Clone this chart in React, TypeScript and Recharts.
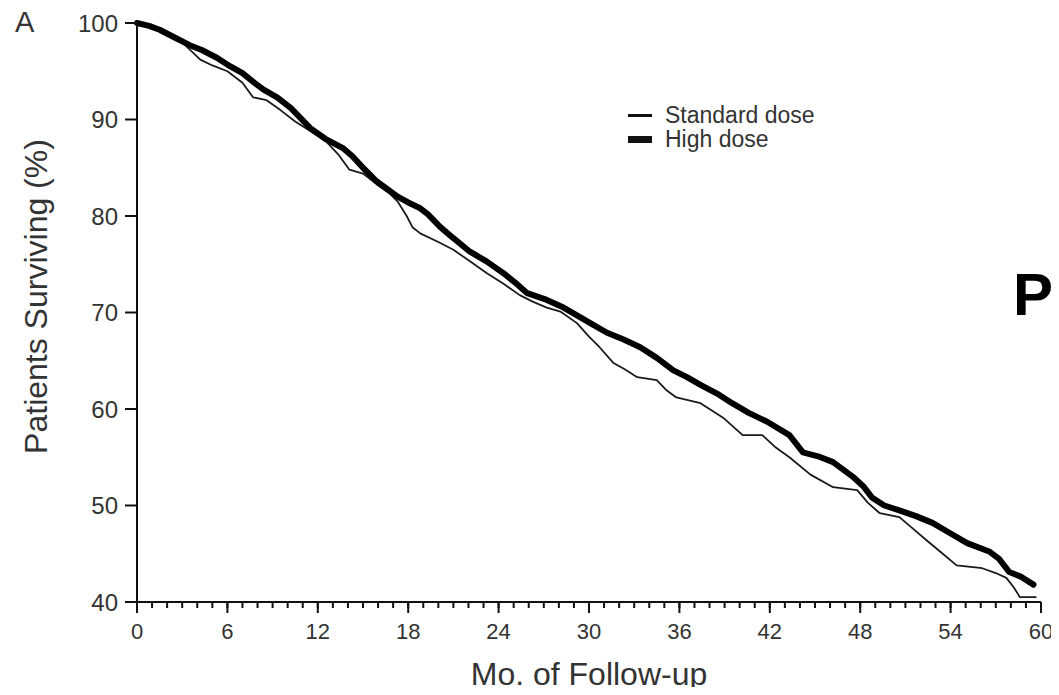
import React from "react";
import { LineChart, Line, XAxis, YAxis, Legend } from "recharts";

// Kaplan-Meier curves (months, % surviving)
const stdMonths = [
  0, 1.5, 3.0, 4.2, 5.0, 6.0, 7.0, 7.7, 8.6, 9.5, 10.5, 11.5, 12.5, 13.4, 14.1, 15.0, 15.9, 16.8,
  17.3, 17.9, 18.3, 18.8, 20.0, 21.0, 22.1, 23.2, 24.3, 25.4, 26.3, 27.2, 28.1, 29.2, 30.0, 30.7,
  31.6, 32.4, 33.2, 34.5, 35.1, 35.8, 37.4, 38.9, 40.2, 41.5, 42.4, 43.3, 44.7, 46.2, 47.8, 48.5,
  49.3, 50.6, 51.5, 52.4, 53.4, 54.4, 56.1, 57.0, 57.7, 58.2, 58.6, 59.7,
];
const stdSurvival = [
  100, 99.2, 98.0, 96.2, 95.6, 95.0, 93.8, 92.3, 92.0, 91.0, 89.8, 88.8, 87.8, 86.3, 84.8, 84.4, 83.3, 82.3,
  81.5, 80.0, 78.8, 78.2, 77.3, 76.5, 75.3, 74.1, 73.0, 71.8, 71.1, 70.5, 70.1, 68.9, 67.5, 66.4,
  64.8, 64.1, 63.3, 63.0, 62.0, 61.2, 60.6, 59.1, 57.3, 57.3, 56.0, 55.0, 53.2, 51.9, 51.6, 50.3,
  49.2, 48.8, 47.6, 46.4, 45.1, 43.8, 43.5, 43.0, 42.5, 41.5, 40.5, 40.5,
];

const highMonths = [
  0, 0.8, 1.5, 2.5, 3.5, 4.3, 5.3, 6.2, 7.0, 7.8, 8.4, 9.3, 10.2, 11.5, 12.5, 13.7, 14.3, 15.0, 15.9,
  16.6, 17.3, 18.0, 18.8, 19.3, 20.1, 21.0, 22.1, 23.2, 24.3, 25.1, 25.9, 27.2, 28.2, 29.2, 30.2,
  31.2, 32.3, 33.4, 34.5, 35.6, 36.5, 37.4, 38.5, 39.5, 40.6, 41.8, 43.3, 44.2, 45.2, 46.2, 47.5,
  48.2, 48.8, 49.6, 50.6, 51.7, 52.8, 54.0, 55.1, 56.6, 57.2, 57.9, 58.7, 59.5,
];
const highSurvival = [
  100, 99.7, 99.3, 98.5, 97.7, 97.2, 96.4, 95.5, 94.8, 93.8, 93.1, 92.3, 91.2, 89.1, 88.0, 87.0, 86.2, 85.0, 83.6,
  82.8, 82.0, 81.4, 80.8, 80.2, 78.9, 77.7, 76.3, 75.3, 74.1, 73.1, 72.0, 71.3, 70.6, 69.7, 68.8,
  67.9, 67.2, 66.4, 65.3, 64.0, 63.3, 62.5, 61.6, 60.6, 59.6, 58.7, 57.3, 55.5, 55.1, 54.5, 53.0,
  52.0, 50.8, 50.0, 49.5, 48.9, 48.2, 47.1, 46.1, 45.2, 44.5, 43.1, 42.6, 41.8,
];

const seriesNames = ["Standard dose", "High dose"];
const xMajorTicks = [0, 6, 12, 18, 24, 30, 36, 42, 48, 54, 60];
const xAllTicks = Array.from({ length: 61 }, (_, i) => i);
const yTicks = [40, 50, 60, 70, 80, 90, 100];

const stdData = stdMonths.map((t, i) => ({ t, v: stdSurvival[i] }));
const highData = highMonths.map((t, i) => ({ t, v: highSurvival[i] }));

const FONT = '"Liberation Sans", Arial, Helvetica, sans-serif';
const INK = "#333";
const AXIS = "#111";

const swatchHeight: Record<string, number> = { "Standard dose": 3, "High dose": 7 };

// recharts draws every tick 6px long; majors get lengthened to 11px and labelled.
// y arrives as axis + tickSize(6) + tickMargin(2)
function MonthTick(props: any) {
  const { x, y, payload } = props;
  if (!xMajorTicks.includes(payload.value)) return <g />;
  return (
    <g>
      <rect x={x - 1} y={y - 8} width={2} height={11} fill={AXIS} />
      <text x={x} y={y + 29} textAnchor="middle" fontSize={22} fill={INK} fontFamily={FONT}>
        {payload.value}
      </text>
    </g>
  );
}

function LegendBox({ payload }: any) {
  const items = [...(payload || [])].sort(
    (a: any, b: any) => seriesNames.indexOf(a.value) - seriesNames.indexOf(b.value)
  );
  return (
    <div style={{ fontFamily: FONT, fontSize: 23, color: INK }}>
      {items.map((e: any) => (
        <div key={e.value} style={{ display: "flex", alignItems: "center", height: 24 }}>
          <span
            style={{
              display: "inline-block",
              width: 24,
              height: swatchHeight[e.value] ?? 3,
              background: AXIS,
              marginRight: 13,
            }}
          />
          <span>{e.value}</span>
        </div>
      ))}
    </div>
  );
}

function YTitle({ viewBox }: any) {
  const x = viewBox.x + 10;
  const y = viewBox.y + viewBox.height / 2 - 16;
  return (
    <text
      x={x}
      y={y}
      transform={`rotate(-90 ${x} ${y})`}
      textAnchor="middle"
      fontSize={32}
      fill={INK}
      fontFamily={FONT}
    >
      Patients Surviving (%)
    </text>
  );
}

export default function App() {
  return (
    <div style={{ position: "relative", width: 1051, height: 687, marginBottom: -8 }}>
      <LineChart width={1051} height={687} margin={{ top: 15, right: 18, bottom: 0, left: 29 }}>
        <XAxis
          type="number"
          dataKey="t"
          domain={[0, 60]}
          ticks={xAllTicks}
          interval={0}
          height={93}
          stroke={AXIS}
          tickSize={6}
          tickMargin={2}
          tickLine={{ stroke: AXIS, strokeWidth: 2 }}
          tick={<MonthTick />}
          axisLine={{ stroke: AXIS, strokeWidth: 2 }}
          label={{
            value: "Mo. of Follow-up",
            position: "insideBottom",
            offset: 10,
            fill: INK,
            fontSize: 32,
            fontFamily: FONT,
          }}
        />
        <YAxis
          type="number"
          domain={[40, 100]}
          ticks={yTicks}
          interval={0}
          width={100}
          stroke={AXIS}
          tickSize={12}
          tickMargin={7}
          tickLine={{ stroke: AXIS, strokeWidth: 2 }}
          tick={{ fontSize: 24, fill: INK, fontFamily: FONT }}
          axisLine={{ stroke: AXIS, strokeWidth: 2 }}
          label={{ content: <YTitle /> }}
        />
        <Legend
          layout="vertical"
          align="center"
          verticalAlign="middle"
          content={<LegendBox />}
          wrapperStyle={{ left: 620, top: 95, width: "auto" }}
        />
        <Line
          data={stdData}
          dataKey="v"
          name={seriesNames[0]}
          type="linear"
          stroke="#1a1a1a"
          strokeWidth={1.8}
          strokeLinejoin="round"
          dot={false}
          activeDot={false}
          isAnimationActive={false}
        />
        <Line
          data={highData}
          dataKey="v"
          name={seriesNames[1]}
          type="linear"
          stroke="#000"
          strokeWidth={6}
          strokeLinejoin="round"
          strokeLinecap="round"
          dot={false}
          activeDot={false}
          isAnimationActive={false}
        />
      </LineChart>
      <div
        style={{
          position: "absolute",
          left: 7,
          top: 0,
          fontFamily: FONT,
          fontSize: 29,
          lineHeight: "29px",
          color: INK,
        }}
      >
        A
      </div>
      <div
        style={{
          position: "absolute",
          left: 1005,
          top: 257,
          fontFamily: FONT,
          fontSize: 60,
          fontWeight: 700,
          lineHeight: "60px",
          color: "#000",
        }}
      >
        P
      </div>
    </div>
  );
}
